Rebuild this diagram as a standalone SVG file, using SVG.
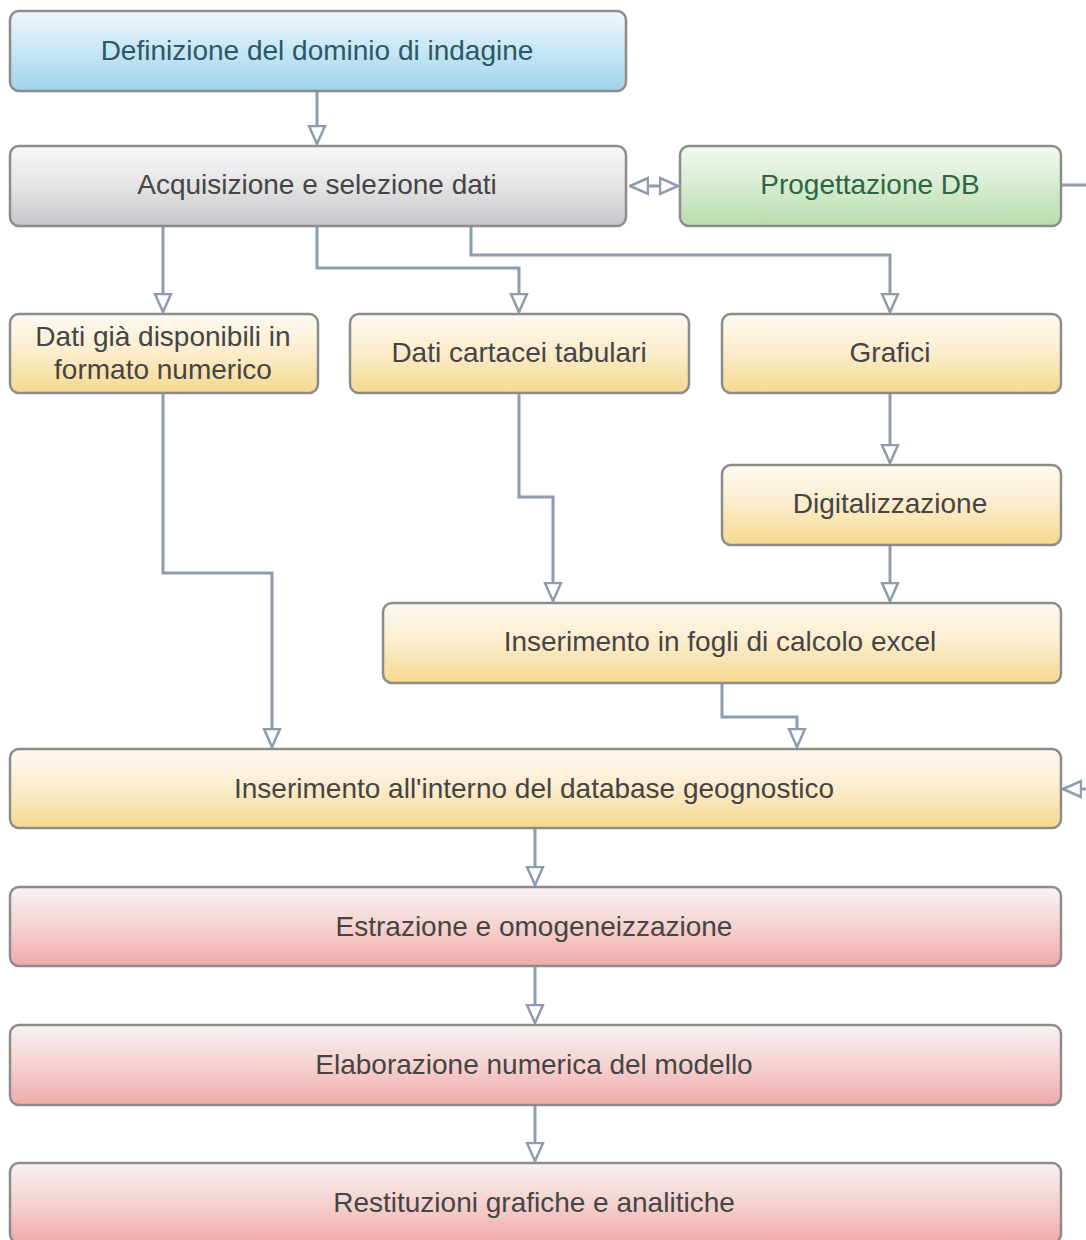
<svg xmlns="http://www.w3.org/2000/svg" width="1086" height="1240" viewBox="0 0 1086 1240">
<defs>
<linearGradient id="gBlue" x1="0" y1="0" x2="0" y2="1"><stop offset="0" stop-color="#eef7fb"/><stop offset="0.5" stop-color="#c6e6f4"/><stop offset="1" stop-color="#9fd4ec"/></linearGradient>
<linearGradient id="gGray" x1="0" y1="0" x2="0" y2="1"><stop offset="0" stop-color="#f8f8f8"/><stop offset="0.5" stop-color="#e4e4e6"/><stop offset="1" stop-color="#c6c6ca"/></linearGradient>
<linearGradient id="gGreen" x1="0" y1="0" x2="0" y2="1"><stop offset="0" stop-color="#f2f9ef"/><stop offset="0.5" stop-color="#d6ecd0"/><stop offset="1" stop-color="#b6deac"/></linearGradient>
<linearGradient id="gYellow" x1="0" y1="0" x2="0" y2="1"><stop offset="0" stop-color="#fdfaf2"/><stop offset="0.5" stop-color="#fbeccb"/><stop offset="1" stop-color="#f6d88e"/></linearGradient>
<linearGradient id="gPink" x1="0" y1="0" x2="0" y2="1"><stop offset="0" stop-color="#f7f2f6"/><stop offset="0.5" stop-color="#f5d2d0"/><stop offset="1" stop-color="#f0aaaa"/></linearGradient>
<marker id="arr" viewBox="0 0 20 20" refX="19" refY="10" markerWidth="20" markerHeight="20" markerUnits="userSpaceOnUse" orient="auto">
<path d="M1,2 L19,10 L1,18 Z" fill="#ffffff" stroke="#8e9cad" stroke-width="2.5" stroke-linejoin="miter"/>
</marker>
<marker id="arrS" viewBox="0 0 20 20" refX="1" refY="10" markerWidth="20" markerHeight="20" markerUnits="userSpaceOnUse" orient="auto">
<path d="M19,2 L1,10 L19,18 Z" fill="#ffffff" stroke="#8e9cad" stroke-width="2.5"/>
</marker>
</defs>
<style>
.box{stroke:#8c8c8c;stroke-width:2.5}
.t{font-family:"Liberation Sans",Arial,sans-serif;font-size:28px;text-anchor:middle;fill:#454545}
.tb{fill:#2e5866}
.tg{fill:#2f6446}
.c{fill:none;stroke:#8e9cad;stroke-width:3}
</style>
<rect width="1086" height="1240" fill="#ffffff"/>
<g id="connectors">
<path class="c" d="M317,91 V144" marker-end="url(#arr)"/>
<path class="c" d="M630,186 H678" marker-start="url(#arrS)" marker-end="url(#arr)"/>
<path class="c" d="M163,226 V312" marker-end="url(#arr)"/>
<path class="c" d="M317,226 V268 H519 V312" marker-end="url(#arr)"/>
<path class="c" d="M471,226 V255 H890 V312" marker-end="url(#arr)"/>
<path class="c" d="M890,393 V463" marker-end="url(#arr)"/>
<path class="c" d="M890,545 V601" marker-end="url(#arr)"/>
<path class="c" d="M519,393 V497 H553 V601" marker-end="url(#arr)"/>
<path class="c" d="M163,393 V573 H272 V747" marker-end="url(#arr)"/>
<path class="c" d="M722,683 V717 H797 V747" marker-end="url(#arr)"/>
<path class="c" d="M1061,185 H1110 V789 H1063" marker-end="url(#arr)"/>
<path class="c" d="M535,828 V885" marker-end="url(#arr)"/>
<path class="c" d="M535,966 V1023" marker-end="url(#arr)"/>
<path class="c" d="M535,1105 V1161" marker-end="url(#arr)"/>
</g>
<g id="n1"><rect class="box" x="10" y="11" width="616" height="80" rx="9" fill="url(#gBlue)"/><text class="t tb" x="317" y="60">Definizione del dominio di indagine</text></g>
<g id="n2"><rect class="box" x="10" y="146" width="616" height="80" rx="9" fill="url(#gGray)"/><text class="t" x="317" y="194">Acquisizione e selezione dati</text></g>
<g id="n3"><rect class="box" x="680" y="146" width="381" height="80" rx="9" fill="url(#gGreen)"/><text class="t tg" x="870" y="194">Progettazione DB</text></g>
<g id="n4"><rect class="box" x="10" y="314" width="308" height="79" rx="9" fill="url(#gYellow)"/><text class="t" x="163" y="346">Dati già disponibili in</text><text class="t" x="163" y="379">formato numerico</text></g>
<g id="n5"><rect class="box" x="350" y="314" width="339" height="79" rx="9" fill="url(#gYellow)"/><text class="t" x="519" y="362">Dati cartacei tabulari</text></g>
<g id="n6"><rect class="box" x="722" y="314" width="339" height="79" rx="9" fill="url(#gYellow)"/><text class="t" x="890" y="362">Grafici</text></g>
<g id="n7"><rect class="box" x="722" y="465" width="339" height="80" rx="9" fill="url(#gYellow)"/><text class="t" x="890" y="513">Digitalizzazione</text></g>
<g id="n8"><rect class="box" x="383" y="603" width="678" height="80" rx="9" fill="url(#gYellow)"/><text class="t" x="720" y="651">Inserimento in fogli di calcolo excel</text></g>
<g id="n9"><rect class="box" x="10" y="749" width="1051" height="79" rx="9" fill="url(#gYellow)"/><text class="t" x="534" y="798">Inserimento all'interno del database geognostico</text></g>
<g id="n10"><rect class="box" x="10" y="887" width="1051" height="79" rx="9" fill="url(#gPink)"/><text class="t" x="534" y="936">Estrazione e omogeneizzazione</text></g>
<g id="n11"><rect class="box" x="10" y="1025" width="1051" height="80" rx="9" fill="url(#gPink)"/><text class="t" x="534" y="1074">Elaborazione numerica del modello</text></g>
<g id="n12"><rect class="box" x="10" y="1163" width="1051" height="80" rx="9" fill="url(#gPink)"/><text class="t" x="534" y="1212">Restituzioni grafiche e analitiche</text></g>
</svg>
